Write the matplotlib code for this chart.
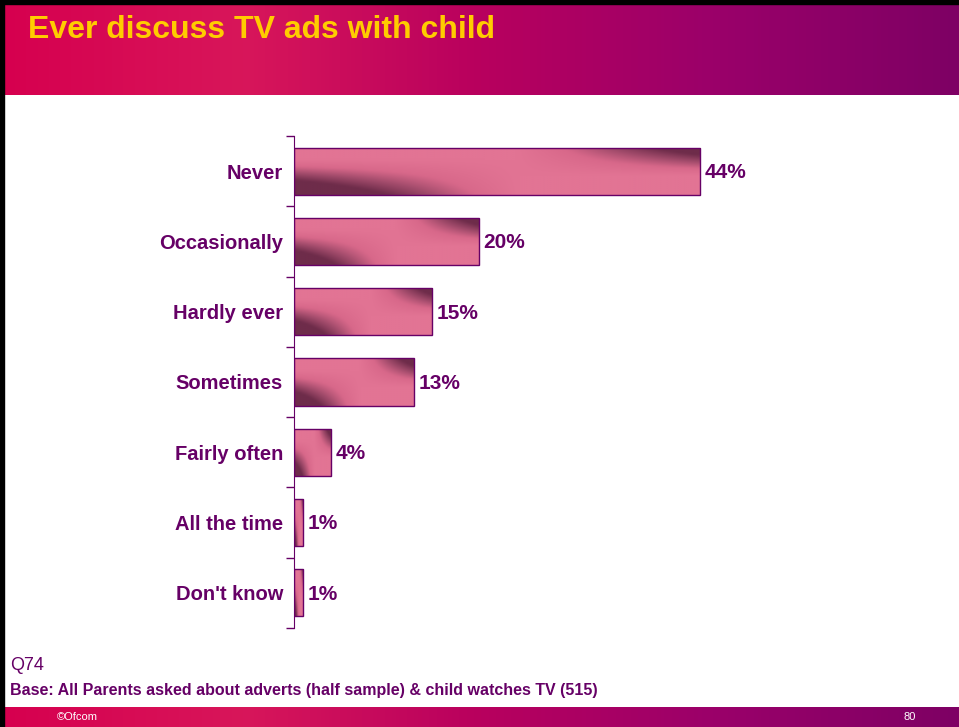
import matplotlib.pyplot as plt
import matplotlib.colors as mcolors
from matplotlib.patches import Rectangle
import numpy as np

plt.rcParams["font.family"] = ["Liberation Sans", "DejaVu Sans"]

categories = ["Never", "Occasionally", "Hardly ever", "Sometimes", "Fairly often", "All the time", "Don't know"]
values = [44, 20, 15, 13, 4, 1, 1]
labels = ["44%", "20%", "15%", "13%", "4%", "1%", "1%"]

purple = "#660066"
W, H = 959, 727

fig = plt.figure(figsize=(W / 100, H / 100), dpi=100)

# header and footer bands
band = mcolors.LinearSegmentedColormap.from_list(
    "band", ["#d6004f", "#d8165a", "#b8005e", "#9a006a", "#7e0064"])
grad = np.linspace(0, 1, 256).reshape(1, -1)
hdr = fig.add_axes([4 / W, 1 - 95 / H, 1 - 4 / W, 91 / H])
hdr.imshow(grad, aspect="auto", cmap=band, extent=[0, 1, 0, 1])
hdr.axis("off")
ftr = fig.add_axes([4 / W, 0, 1 - 4 / W, 20 / H])
ftr.imshow(grad, aspect="auto", cmap=band, extent=[0, 1, 0, 1])
ftr.axis("off")

# black frame on top and left
fig.add_artist(Rectangle((0, 1 - 4 / H), 1, 4 / H, transform=fig.transFigure, color="black", zorder=5))
fig.add_artist(Rectangle((0, 0), 4 / W, 1, transform=fig.transFigure, color="black", zorder=5))

fig.text(28 / W, 1 - 30 / H, "Ever discuss TV ads with child", color="#ffcc00",
         fontsize=23, fontweight="bold", va="center", ha="left")

ax = fig.add_axes([294 / W, 1 - 628 / H, (900 - 294) / W, (628 - 136) / H])
y = np.arange(len(categories))
bars = ax.barh(y, values, height=0.67, facecolor="none", edgecolor=purple, linewidth=1, zorder=2)

# shaded look on each bar
shade = mcolors.LinearSegmentedColormap.from_list("shade", ["#6e2c4a", "#a04a6a", "#d8688a", "#e27494"])
gx, gy = np.meshgrid(np.linspace(0, 1, 80), np.linspace(0, 1, 24))
dark_bl = np.clip(gy - 0.25, 0, 1) * np.clip(1 - gx * 1.8, 0, 1) * 2.2
dark_tr = np.clip(0.6 - gy, 0, 1) * np.clip(gx * 2.2 - 1.2, 0, 1) * 2.2
img = np.clip(1 - dark_bl - dark_tr, 0, 1)
for b in bars:
    x0, y0, w, h = b.get_x(), b.get_y(), b.get_width(), b.get_height()
    im = ax.imshow(img, extent=[x0, x0 + w, y0 + h, y0], aspect="auto", cmap=shade,
                   vmin=0, vmax=1, zorder=1.5, interpolation="bilinear")
    im.set_clip_path(b)

for yi, v, lab in zip(y, values, labels):
    ax.text(v + 0.5, yi + 0.02, lab, color=purple, fontsize=15, fontweight="bold", va="center", ha="left")

ax.set_xlim(0, 65.65)
ax.set_ylim(len(categories) - 0.5, -0.5)
ax.set_yticks(y)
ax.set_yticklabels(categories, color=purple, fontsize=14.5, fontweight="bold")
ax.tick_params(axis="y", length=0, pad=8)
ax.set_yticks(np.arange(-0.5, len(categories)), minor=True)
ax.tick_params(axis="y", which="minor", length=6, color=purple, width=1)
ax.set_xticks([])
for s in ["top", "right", "bottom"]:
    ax.spines[s].set_visible(False)
ax.spines["left"].set_color(purple)

fig.text(10 / W, 1 - 665 / H, "Q74", color=purple, fontsize=13, va="center", ha="left")
fig.text(10 / W, 1 - 690 / H, "Base: All Parents asked about adverts (half sample) & child watches TV (515)",
         color=purple, fontsize=11.5, fontweight="bold", va="center", ha="left")
fig.text(57 / W, 1 - 717 / H, "\u00a9Ofcom", color="white", fontsize=8, va="center", ha="left")
fig.text(903 / W, 1 - 717 / H, "80", color="white", fontsize=8, va="center", ha="left")

fig.savefig("out.png", dpi=100)
